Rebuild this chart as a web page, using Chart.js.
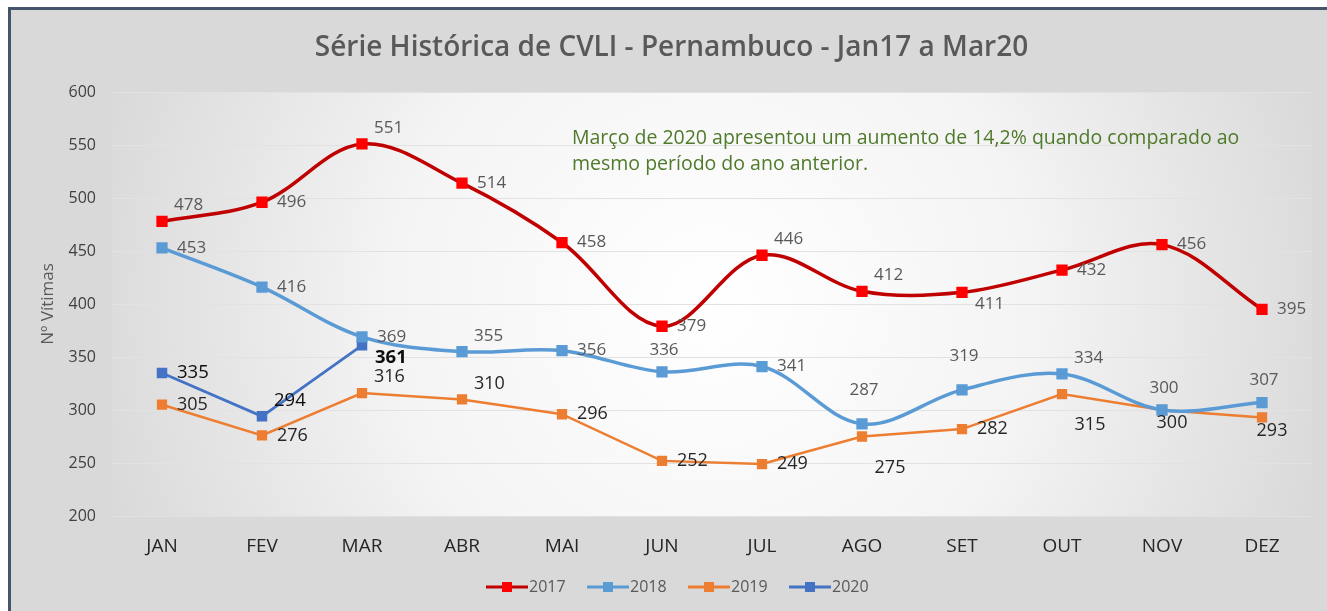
<!DOCTYPE html>
<html>
<head>
<meta charset="utf-8">
<script src="https://cdn.jsdelivr.net/npm/chart.js@4"></script>
<style>
  html, body { margin: 0; padding: 0; background: #fff; }
  #frame {
    position: absolute; left: 8px; top: 7px; width: 1319px; height: 604px;
    border-left: 3px solid #44546a; border-top: 3px solid #44546a;
    background: #d9d9d9;
  }
  #wrap { position: absolute; left: 0; top: 0; width: 1316px; height: 601px; }
</style>
</head>
<body>
<div id="frame"><div id="wrap"><canvas id="chart"></canvas></div></div>
<script>
const meses = ['JAN', 'FEV', 'MAR', 'ABR', 'MAI', 'JUN', 'JUL', 'AGO', 'SET', 'OUT', 'NOV', 'DEZ'];
const anos = ['2017', '2018', '2019', '2020'];
const v2017 = [478, 496, 551, 514, 458, 379, 446, 412, 411, 432, 456, 395];
const v2018 = [453, 416, 369, 355, 356, 336, 341, 287, 319, 334, 300, 307];
const v2019 = [305, 276, 316, 310, 296, 252, 249, 275, 282, 315, 300, 293];
const v2020 = [335, 294, 361];
const yTicks = [200, 250, 300, 350, 400, 450, 500, 550, 600];

// onde cada rotulo fica em relacao ao ponto
const pos2017 = ['ar', 'r', 'ar', 'r', 'r', 'r', 'ar', 'ar', 'br', 'r', 'r', 'r'];
const pos2018 = ['r', 'r', 'r', 'ar', 'r', 'a', 'r', 'aa', 'aa', 'ar', 'a', 'a'];
const pos2019 = ['r', 'r', 'ar', 'ar', 'r', 'r', 'r', 'bb', 'r', 'bb', 'b', 'b'];
const pos2020 = ['r', 'ar', 'br'];

const FONTE = "'Open Sans', 'Noto Sans', sans-serif";

const ctx = document.getElementById('chart');

const fundoPlot = {
  id: 'fundoPlot',
  beforeDraw(chart) {
    const { ctx, chartArea: a } = chart;
    const cx = (a.left + a.right) / 2, cy = (a.top + a.bottom) / 2;
    const g = ctx.createRadialGradient(cx, cy, 0, cx, cy, 640);
    g.addColorStop(0, '#ffffff');
    g.addColorStop(0.5, '#f4f4f4');
    g.addColorStop(1, '#d9d9d9');
    ctx.save();
    ctx.fillStyle = g;
    ctx.fillRect(a.left, a.top, a.right - a.left, a.bottom - a.top);
    ctx.restore();
  }
};

const rotulos = {
  id: 'rotulos',
  afterDatasetsDraw(chart) {
    const { ctx } = chart;
    chart.data.datasets.forEach((ds, i) => {
      const meta = chart.getDatasetMeta(i);
      meta.data.forEach((pt, j) => {
        const p = ds.labelPos[j];
        let dx = 15, dy = 0, align = 'left';
        if (p === 'ar') { dx = 12; dy = -16; }
        if (p === 'br') { dx = 13; dy = 12; }
        if (p === 'a') { dx = 2; dy = -22; align = 'center'; }
        if (p === 'aa') { dx = 2; dy = -34; align = 'center'; }
        if (p === 'b') { dx = 10; dy = 13; align = 'center'; }
        if (p === 'bb') { dx = 28; dy = 31; align = 'center'; }
        const peso = ds.labelWeight ? ds.labelWeight[j] : 'normal';
        ctx.save();
        ctx.font = peso + ' ' + ds.labelSize + 'px ' + FONTE;
        ctx.fillStyle = ds.labelColor;
        ctx.textAlign = align;
        ctx.textBaseline = 'middle';
        ctx.fillText(String(ds.data[j]), pt.x + dx, pt.y + dy);
        ctx.restore();
      });
    });
  }
};

const extras = {
  id: 'extras',
  afterDraw(chart) {
    const { ctx, chartArea: a } = chart;
    ctx.save();
    // caixa de texto
    ctx.font = '19.5px ' + FONTE;
    ctx.fillStyle = '#4f7a2a';
    ctx.textAlign = 'left';
    ctx.textBaseline = 'middle';
    ctx.fillText('Março de 2020 apresentou um aumento de 14,2% quando comparado ao', a.left + 460, 128);
    ctx.fillText('mesmo período do ano anterior.', a.left + 460, 154);
    // titulo do eixo Y
    ctx.translate(37, (a.top + a.bottom) / 2);
    ctx.rotate(-Math.PI / 2);
    ctx.font = '17px ' + FONTE;
    ctx.fillStyle = '#595959';
    ctx.textAlign = 'center';
    ctx.fillText('Nº Vítimas', 0, 0);
    ctx.restore();

    // legenda
    const ds = chart.data.datasets;
    const y = 577;
    let x = 475;
    ctx.save();
    ds.forEach((d) => {
      ctx.strokeStyle = d.borderColor;
      ctx.lineWidth = 3;
      ctx.beginPath();
      ctx.moveTo(x, y);
      ctx.lineTo(x + 42, y);
      ctx.stroke();
      ctx.fillStyle = d.pointBackgroundColor;
      ctx.fillRect(x + 16, y - 5, 10, 10);
      ctx.font = '16px ' + FONTE;
      ctx.fillStyle = '#595959';
      ctx.textAlign = 'left';
      ctx.textBaseline = 'middle';
      ctx.fillText(d.label, x + 43, y);
      x += 101;
    });
    ctx.restore();
  }
};

new Chart(ctx, {
  type: 'line',
  data: {
    labels: meses,
    datasets: [{
      label: anos[0],
      data: v2017,
      borderColor: '#c00000',
      borderWidth: 3.5,
      pointBackgroundColor: '#ff0000',
      pointBorderColor: '#ff0000',
      tension: 0.35,
      labelPos: pos2017,
      labelColor: '#595959',
      labelSize: 17
    }, {
      label: anos[1],
      data: v2018,
      borderColor: '#5b9bd5',
      borderWidth: 3.5,
      pointBackgroundColor: '#5b9bd5',
      pointBorderColor: '#5b9bd5',
      tension: 0.35,
      labelPos: pos2018,
      labelColor: '#595959',
      labelSize: 17
    }, {
      label: anos[2],
      data: v2019,
      borderColor: '#ed7d31',
      borderWidth: 2.5,
      pointBackgroundColor: '#ed7d31',
      pointBorderColor: '#ed7d31',
      tension: 0,
      labelPos: pos2019,
      labelColor: '#262626',
      labelSize: 18
    }, {
      label: anos[3],
      data: v2020,
      borderColor: '#4472c4',
      borderWidth: 2.75,
      pointBackgroundColor: '#4472c4',
      pointBorderColor: '#4472c4',
      tension: 0,
      labelPos: pos2020,
      labelColor: '#0d0d0d',
      labelSize: 18.5,
      labelWeight: ['normal', 'normal', 'bold']
    }]
  },
  options: {
    responsive: true,
    maintainAspectRatio: false,
    animation: false,
    layout: { padding: { left: 20, right: 15, top: 0, bottom: 45 } },
    elements: {
      point: { pointStyle: 'rect', radius: 5.5, hoverRadius: 5.5 }
    },
    plugins: {
      legend: { display: false },
      tooltip: { enabled: false },
      title: {
        display: true,
        text: 'Série Histórica de CVLI - Pernambuco - Jan17 a Mar20',
        color: '#595959',
        font: { family: FONTE, size: 28, weight: '600', lineHeight: 1.2 },
        padding: { top: 21, bottom: 27.4 }
      }
    },
    scales: {
      x: {
        offset: true,
        grid: { display: false },
        border: { display: false },
        ticks: { color: '#262626', font: { family: FONTE, size: 19 }, padding: 11 },
        afterFit(s) { s.height = 50; }
      },
      y: {
        min: 200,
        max: 600,
        afterBuildTicks(s) { s.ticks = yTicks.map(v => ({ value: v })); },
        grid: { color: '#e2e2e2', lineWidth: 1, drawTicks: false },
        border: { display: false },
        ticks: { color: '#404040', font: { family: FONTE, size: 16 }, padding: 16 },
        afterFit(s) { s.width = 81; }
      }
    }
  },
  plugins: [fundoPlot, rotulos, extras]
});
</script>
</body>
</html>
